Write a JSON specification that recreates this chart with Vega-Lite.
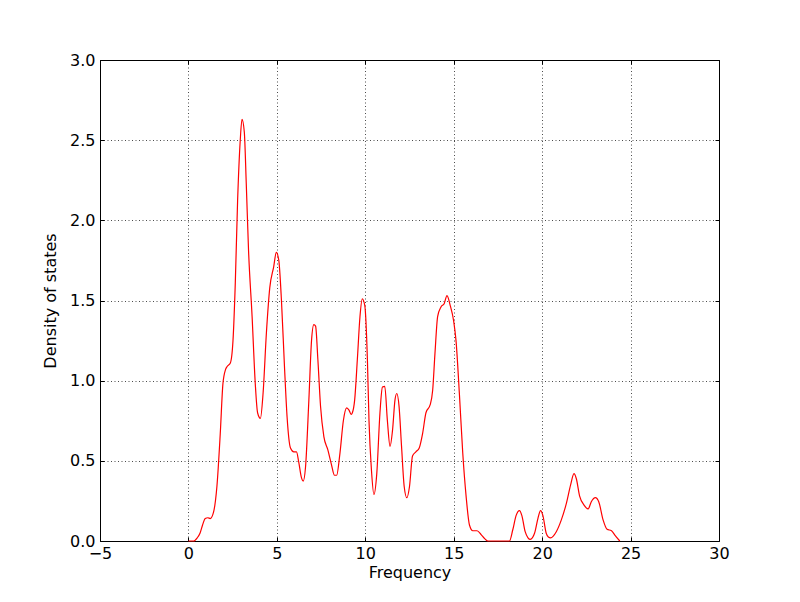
{
  "$schema": "https://vega.github.io/schema/vega-lite/v6.json",
  "autosize": {"type": "none"},
  "width": 619,
  "height": 481,
  "padding": {"left": 100, "top": 60, "right": 81, "bottom": 61},
  "background": "white",
  "config": {
    "font": "DejaVu Sans",
    "view": {"stroke": "#000", "strokeWidth": 1},
    "axis": {
      "labelFont": "DejaVu Sans",
      "labelFontSize": 16,
      "labelColor": "#000",
      "titleFont": "DejaVu Sans",
      "titleFontSize": 16,
      "titleFontWeight": "normal",
      "titleColor": "#000",
      "domain": false,
      "tickColor": "#000",
      "tickSize": -4,
      "tickWidth": 1,
      "gridColor": "#000",
      "gridOpacity": 0.7,
      "gridDash": [1, 2.5],
      "gridWidth": 1
    }
  },
  "data": {
    "values": [
      {"f": 0, "d": 0}, {"f": 0.3, "d": 0}, {"f": 0.5, "d": 0.02}, {"f": 0.66, "d": 0.05}, {"f": 0.8, "d": 0.1},
      {"f": 0.95, "d": 0.14}, {"f": 1.1, "d": 0.145}, {"f": 1.23, "d": 0.14}, {"f": 1.42, "d": 0.18}, {"f": 1.61, "d": 0.34},
      {"f": 1.8, "d": 0.67}, {"f": 1.95, "d": 0.98}, {"f": 2.1, "d": 1.07}, {"f": 2.2, "d": 1.09}, {"f": 2.37, "d": 1.11},
      {"f": 2.52, "d": 1.25}, {"f": 2.65, "d": 1.61}, {"f": 2.78, "d": 2.12}, {"f": 2.93, "d": 2.5}, {"f": 3.03, "d": 2.63},
      {"f": 3.16, "d": 2.55}, {"f": 3.27, "d": 2.23}, {"f": 3.4, "d": 1.81}, {"f": 3.6, "d": 1.4}, {"f": 3.78, "d": 0.98},
      {"f": 3.91, "d": 0.8}, {"f": 4.07, "d": 0.765}, {"f": 4.22, "d": 0.92}, {"f": 4.41, "d": 1.3}, {"f": 4.6, "d": 1.58},
      {"f": 4.82, "d": 1.71}, {"f": 4.97, "d": 1.8}, {"f": 5.11, "d": 1.75}, {"f": 5.26, "d": 1.5}, {"f": 5.43, "d": 1.09},
      {"f": 5.58, "d": 0.77}, {"f": 5.77, "d": 0.58}, {"f": 5.96, "d": 0.556}, {"f": 6.11, "d": 0.556}, {"f": 6.24, "d": 0.49},
      {"f": 6.38, "d": 0.4}, {"f": 6.49, "d": 0.374}, {"f": 6.62, "d": 0.46}, {"f": 6.81, "d": 0.88}, {"f": 6.96, "d": 1.25},
      {"f": 7.09, "d": 1.35}, {"f": 7.19, "d": 1.34}, {"f": 7.32, "d": 1.13}, {"f": 7.47, "d": 0.84}, {"f": 7.66, "d": 0.65},
      {"f": 7.88, "d": 0.57}, {"f": 8.08, "d": 0.48}, {"f": 8.26, "d": 0.41}, {"f": 8.38, "d": 0.41}, {"f": 8.57, "d": 0.55},
      {"f": 8.76, "d": 0.75}, {"f": 8.95, "d": 0.83}, {"f": 9.08, "d": 0.816}, {"f": 9.2, "d": 0.79}, {"f": 9.27, "d": 0.8},
      {"f": 9.4, "d": 0.88}, {"f": 9.55, "d": 1.13}, {"f": 9.7, "d": 1.4}, {"f": 9.83, "d": 1.51}, {"f": 9.97, "d": 1.47},
      {"f": 10.12, "d": 1.13}, {"f": 10.21, "d": 0.75}, {"f": 10.35, "d": 0.44}, {"f": 10.49, "d": 0.29}, {"f": 10.65, "d": 0.42},
      {"f": 10.83, "d": 0.8}, {"f": 10.97, "d": 0.96}, {"f": 11.1, "d": 0.965}, {"f": 11.25, "d": 0.75}, {"f": 11.4, "d": 0.59},
      {"f": 11.54, "d": 0.69}, {"f": 11.68, "d": 0.88}, {"f": 11.78, "d": 0.92}, {"f": 11.91, "d": 0.84}, {"f": 12.05, "d": 0.59},
      {"f": 12.2, "d": 0.34}, {"f": 12.35, "d": 0.27}, {"f": 12.5, "d": 0.34}, {"f": 12.67, "d": 0.53}, {"f": 12.86, "d": 0.556},
      {"f": 13.05, "d": 0.58}, {"f": 13.24, "d": 0.67}, {"f": 13.43, "d": 0.8}, {"f": 13.67, "d": 0.85}, {"f": 13.81, "d": 0.94},
      {"f": 13.94, "d": 1.17}, {"f": 14.09, "d": 1.4}, {"f": 14.28, "d": 1.46}, {"f": 14.46, "d": 1.48}, {"f": 14.62, "d": 1.53},
      {"f": 14.8, "d": 1.47}, {"f": 15.0, "d": 1.37}, {"f": 15.13, "d": 1.25}, {"f": 15.32, "d": 0.92}, {"f": 15.51, "d": 0.55},
      {"f": 15.7, "d": 0.28}, {"f": 15.89, "d": 0.1}, {"f": 16.08, "d": 0.064}, {"f": 16.32, "d": 0.064}, {"f": 16.55, "d": 0.04},
      {"f": 16.75, "d": 0.015}, {"f": 16.93, "d": 0}, {"f": 18.15, "d": 0}, {"f": 18.34, "d": 0.07}, {"f": 18.53, "d": 0.16},
      {"f": 18.72, "d": 0.19}, {"f": 18.85, "d": 0.16}, {"f": 19.04, "d": 0.058}, {"f": 19.2, "d": 0.02}, {"f": 19.33, "d": 0.01},
      {"f": 19.57, "d": 0.048}, {"f": 19.76, "d": 0.14}, {"f": 19.91, "d": 0.19}, {"f": 20.04, "d": 0.16}, {"f": 20.23, "d": 0.048},
      {"f": 20.35, "d": 0.025}, {"f": 20.48, "d": 0.02}, {"f": 20.8, "d": 0.058}, {"f": 21.08, "d": 0.13}, {"f": 21.37, "d": 0.235},
      {"f": 21.61, "d": 0.35}, {"f": 21.8, "d": 0.42}, {"f": 21.93, "d": 0.39}, {"f": 22.12, "d": 0.28}, {"f": 22.37, "d": 0.224},
      {"f": 22.6, "d": 0.2}, {"f": 22.78, "d": 0.245}, {"f": 23.01, "d": 0.27}, {"f": 23.2, "d": 0.245}, {"f": 23.45, "d": 0.13},
      {"f": 23.67, "d": 0.073}, {"f": 23.92, "d": 0.064}, {"f": 24.11, "d": 0.037}, {"f": 24.39, "d": 0}
    ]
  },
  "layer": [
    {
      "mark": {"type": "line", "color": "#ff0000", "strokeWidth": 1.2, "interpolate": "monotone"},
      "encoding": {
        "x": {
          "field": "f", "type": "quantitative", "title": "Frequency",
          "scale": {"domain": [-5, 30], "nice": false, "zero": false},
          "axis": {"orient": "bottom", "values": [-5, 0, 5, 10, 15, 20, 25, 30], "format": "d", "labelPadding": 8, "titlePadding": 3, "grid": true, "labelFlush": false}
        },
        "y": {
          "field": "d", "type": "quantitative", "title": "Density of states",
          "scale": {"domain": [0, 3], "nice": false},
          "axis": {"orient": "left", "values": [0, 0.5, 1, 1.5, 2, 2.5, 3], "format": ".1f", "labelPadding": 9, "titlePadding": 11, "grid": true, "labelFlush": false}
        }
      }
    },
    {
      "mark": {"type": "line", "strokeOpacity": 0},
      "encoding": {
        "x": {
          "field": "f", "type": "quantitative",
          "scale": {"domain": [-5, 30], "nice": false, "zero": false},
          "axis": {"orient": "top", "values": [-5, 0, 5, 10, 15, 20, 25, 30], "labels": false, "title": null, "grid": false}
        },
        "y": {
          "field": "d", "type": "quantitative",
          "scale": {"domain": [0, 3], "nice": false},
          "axis": {"orient": "right", "values": [0, 0.5, 1, 1.5, 2, 2.5, 3], "labels": false, "title": null, "grid": false}
        }
      }
    }
  ],
  "resolve": {"axis": {"x": "independent", "y": "independent"}}
}
